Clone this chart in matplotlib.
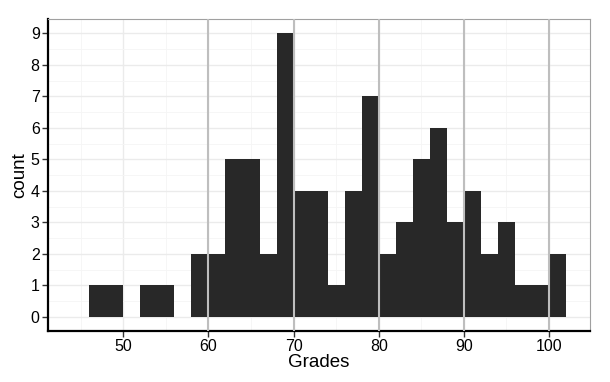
import matplotlib
matplotlib.use("Agg")
import matplotlib.pyplot as plt
import numpy as np

plt.rcParams['font.family'] = ['Liberation Sans', 'DejaVu Sans']

# histogram of grades, bin width 2
bin_edges = list(range(46, 104, 2))
counts = [1, 1, 0, 1, 1, 0, 2, 2, 5, 5, 2, 9, 4, 4, 1, 4, 7, 2, 3, 5, 6, 3, 4, 2, 3, 1, 1, 2]
vlines = [60, 70, 80, 90, 100]
xticks = [50, 60, 70, 80, 90, 100]
yticks = list(range(0, 10))

fig = plt.figure(figsize=(6.1, 3.82), dpi=100)
ax = fig.add_axes([0.0787, 0.1335, 0.8883, 0.8165])

edges = np.array(bin_edges)
ax.bar(edges[:-1], counts, width=np.diff(edges), align='edge',
       color='#282828', linewidth=0, zorder=2)

for v in vlines:
    ax.axvline(v, color='#bebebe', lw=1.5, zorder=3)

ax.set_xlim(41.16, 104.8)
ax.set_ylim(-0.45, 9.45)
ax.set_xticks(xticks)
ax.set_yticks(yticks)
ax.set_xticks(np.arange(45, 105, 5), minor=True)
ax.set_yticks(np.arange(0.5, 9.5, 1), minor=True)
ax.grid(which='major', color='#ebebeb', lw=1.0, zorder=0)
ax.grid(which='minor', color='#f5f5f5', lw=0.6, zorder=0)
ax.set_axisbelow(True)

for s in ['top', 'right']:
    ax.spines[s].set_color('#a0a0a0')
    ax.spines[s].set_linewidth(0.8)
for s in ['left', 'bottom']:
    ax.spines[s].set_color('black')
    ax.spines[s].set_linewidth(1.6)

ax.tick_params(which='major', length=4, width=1, color='#333333',
               labelsize=11.5, labelcolor='black', pad=2)
ax.tick_params(which='minor', length=0)

ax.set_xlabel('Grades', fontsize=13.5, labelpad=0)
ax.set_ylabel('count', fontsize=13.5, labelpad=2)

fig.savefig('out.png', dpi=100)
